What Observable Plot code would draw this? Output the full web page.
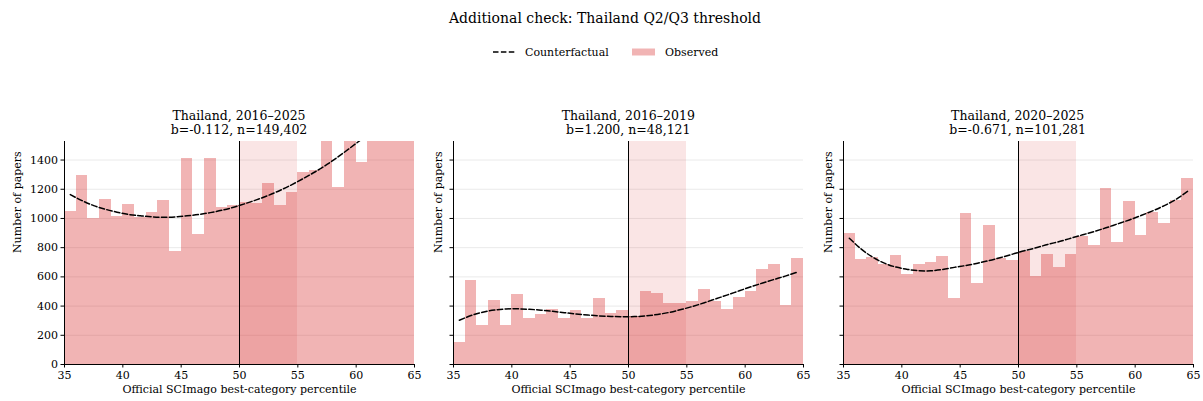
<!DOCTYPE html>
<html>
<head>
<meta charset="utf-8">
<script src="https://cdn.jsdelivr.net/npm/d3@7"></script>
<script src="https://cdn.jsdelivr.net/npm/@observablehq/plot@0.6"></script>
<style>
  html, body { margin: 0; padding: 0; background: #fff; }
  #root { position: relative; width: 1203px; height: 401px; background: #fff; font-family: "DejaVu Serif", serif; color: #000; overflow: hidden; }
  .abs { position: absolute; white-space: nowrap; line-height: 1; }
  .c { transform: translate(-50%, -50%); }
  .panel { position: absolute; top: 100px; }
</style>
</head>
<body>
<div id="root"></div>
<script>
// ---------- data ----------
const binStarts = [35,36,37,38,39,40,41,42,43,44,45,46,47,48,49,50,51,52,53,54,55,56,57,58,59,60,61,62,63,64];
const xTicks = [35,40,45,50,55,60,65];
const yTicks = [0,200,400,600,800,1000,1200,1400];
const cutoff = 50;
const bandEnd = 55;

const panelTitles = ["Thailand, 2016\u20132025", "Thailand, 2016\u20132019", "Thailand, 2020\u20132025"];
const panelStats = ["b=-0.112, n=149,402", "b=1.200, n=48,121", "b=-0.671, n=101,281"];

const observedAll = [1047,1293,1002,1129,1013,1099,1008,1040,1122,774,1409,890,1409,1072,1088,1110,1100,1238,1088,1177,1313,1327,1600,1211,1580,1382,1650,1700,1680,1720];
const counterAll  = [1163,1122,1088,1063,1043,1027,1018,1011,1008,1011,1018,1027,1040,1056,1077,1102,1129,1159,1193,1232,1275,1320,1370,1425,1484,1545,1610,1680,1755,1835];

const observedEarly = [150,576,266,439,266,480,316,344,376,316,369,316,453,351,371,330,501,487,421,421,432,514,432,378,460,501,651,685,405,726];
const counterEarly  = [303,335,358,373,380,381,378,372,364,355,346,339,333,329,327,328,333,343,357,376,398,423,450,477,505,532,558,583,607,633];

const observedLate = [897,719,731,685,747,617,685,699,740,453,1033,555,951,726,712,774,603,753,665,753,876,815,1204,835,1115,883,1040,965,1122,1272];
const counterLate  = [865,792,735,694,667,651,642,642,651,665,678,694,712,733,756,779,799,822,842,865,888,911,936,963,990,1020,1052,1088,1131,1186];

const yMax = 1527;
const barColor = "#d62728";

// ---------- layout ----------
const root = document.getElementById("root");
function addText(txt, x, y, size, extra) {
  const d = document.createElement("div");
  d.className = "abs c";
  d.textContent = txt;
  d.style.left = x + "px";
  d.style.top = y + "px";
  d.style.fontSize = size + "px";
  if (extra) Object.assign(d.style, extra);
  root.appendChild(d);
  return d;
}

addText("Additional check: Thailand Q2/Q3 threshold", 605, 18, 14);

// legend
const leg = document.createElement("div");
leg.className = "abs";
leg.style.left = "493px";
leg.style.top = "45px";
leg.innerHTML =
  '<svg width="200" height="14" style="position:absolute;left:0;top:0;overflow:visible">' +
  '<line x1="0" x2="22" y1="7" y2="7" stroke="#000" stroke-width="1.5" stroke-dasharray="5.5,2.4"/>' +
  `<rect x="139" y="3.5" width="23" height="7" fill="${barColor}" fill-opacity="0.35"/>` +
  '</svg>';
root.appendChild(leg);
const t1 = addText("Counterfactual", 525, 52, 11, {transform: "translate(0,-50%)"});
const t2 = addText("Observed", 665, 52, 11, {transform: "translate(0,-50%)"});

const panels = [
  {obs: observedAll, cf: counterAll, left: 64, showY: true},
  {obs: observedEarly, cf: counterEarly, left: 453.3, showY: false},
  {obs: observedLate, cf: counterLate, left: 842.7, showY: false}
];

const marginLeft = 64, plotW = 350, marginRight = 10;

panels.forEach((p, i) => {
  const table = binStarts.map((lo, k) => ({lo, hi: lo + 1, mid: lo + 0.5, n: p.obs[k], cf: p.cf[k]}));
  const chart = Plot.plot({
    width: marginLeft + plotW + marginRight,
    height: 301,
    marginLeft, marginRight,
    marginTop: 41,
    marginBottom: 37,
    x: {domain: [35, 65]},
    y: {domain: [0, yMax]},
    style: {fontFamily: "DejaVu Serif", fontSize: "11px", color: "#000", background: "transparent", overflow: "visible"},
    marks: [
      Plot.gridY(yTicks, {stroke: "#e4e4e4", strokeOpacity: 1, strokeWidth: 0.8}),
      Plot.rectY(table, {x1: "lo", x2: "hi", y: "n", fill: barColor, fillOpacity: 0.35, inset: 0, clip: true, shapeRendering: "crispEdges"}),
      Plot.rect([{a: cutoff, b: bandEnd}], {x1: "a", x2: "b", fill: barColor, fillOpacity: 0.12, inset: 0, shapeRendering: "crispEdges"}),
      Plot.ruleX([cutoff], {stroke: "#000", strokeWidth: 1}),
      Plot.line(table, {x: "mid", y: "cf", stroke: "#000", strokeWidth: 1.5, strokeDasharray: "5.5,2.4", curve: "natural", clip: true}),
      Plot.axisX({ticks: xTicks, tickSize: 3.5, tickPadding: 3, tickFormat: d => String(d), label: null, stroke: "#000"}),
      Plot.axisY({ticks: yTicks, tickSize: 3.5, tickPadding: 3, tickFormat: p.showY ? (d => String(d)) : (() => ""), label: null, stroke: "#000"}),
      Plot.ruleX([35], {stroke: "#000", strokeWidth: 1}),
      Plot.ruleY([0], {stroke: "#000", strokeWidth: 1}),
      Plot.text(["Number of papers"], {text: d => d, frameAnchor: "left", rotate: -90, dx: p.showY ? -47 : -15, fontSize: 11, fill: "#000"}),
      Plot.text(["Official SCImago best-category percentile"], {text: d => d, frameAnchor: "bottom", dy: 28.5, fontSize: 11, fill: "#000"})
    ]
  });
  chart.classList.add("panel");
  chart.style.left = (p.left - marginLeft) + "px";
  root.appendChild(chart);

  const cx = p.left + plotW / 2;
  addText(panelTitles[i], cx, 116, 12.5);
  addText(panelStats[i], cx, 130, 12.5);
});
</script>
</body>
</html>
